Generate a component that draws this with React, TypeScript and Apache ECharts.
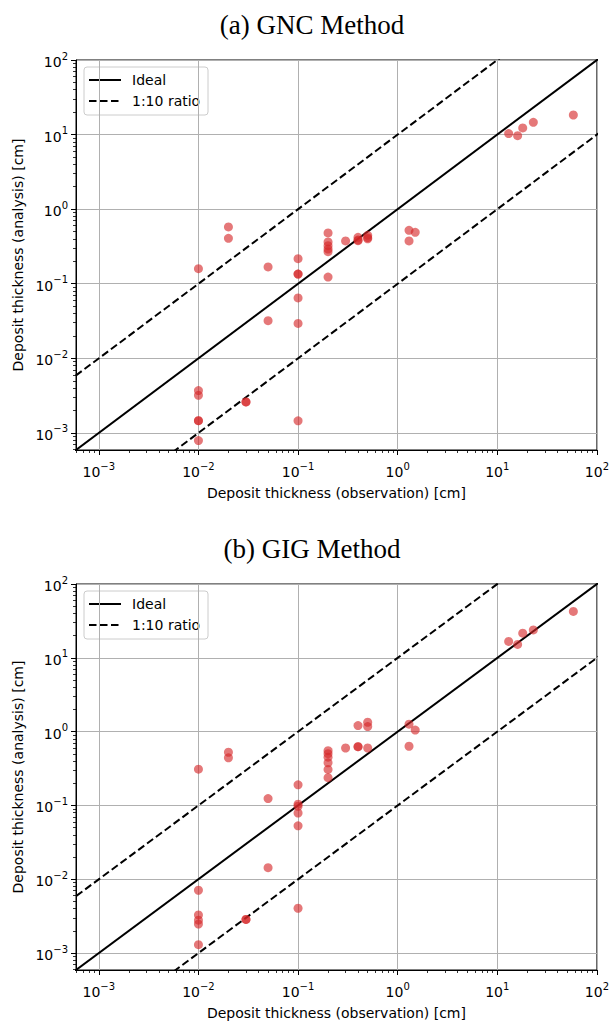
import React, { useEffect, useRef } from 'react';
import * as echarts from 'echarts';

// ---- data ----
const obsThickness = [
  0.01, 0.01, 0.01, 0.01, 0.01, 0.01,
  0.02, 0.02,
  0.03, 0.03,
  0.05, 0.05,
  0.1, 0.1, 0.1, 0.1, 0.1, 0.1,
  0.2, 0.2, 0.2, 0.2, 0.2, 0.2,
  0.3,
  0.4, 0.4, 0.4,
  0.5, 0.5, 0.5,
  1.3, 1.3,
  1.5,
  13, 16, 18, 23, 58,
];
const gncThickness = [
  0.159, 0.00369, 0.00319, 0.00146, 0.00146, 0.00079,
  0.577, 0.407,
  0.0026, 0.0026,
  0.168, 0.032,
  0.217, 0.135, 0.135, 0.0646, 0.0294, 0.00145,
  0.48, 0.363, 0.324, 0.292, 0.269, 0.123,
  0.375,
  0.419, 0.385, 0.378,
  0.446, 0.415, 0.40,
  0.52, 0.375,
  0.489,
  10.3, 9.67, 12.3, 14.6, 18.3,
];
const gigThickness = [
  0.31, 0.0071, 0.00329, 0.00279, 0.00247, 0.0013,
  0.526, 0.442,
  0.00286, 0.00286,
  0.124, 0.01436,
  0.19, 0.104, 0.0975, 0.079, 0.053, 0.00405,
  0.553, 0.503, 0.451, 0.378, 0.308, 0.238,
  0.60,
  1.21, 0.625, 0.625,
  1.34, 1.17, 0.60,
  1.26, 0.634,
  1.05,
  16.7, 15.2, 21.6, 23.9, 42.5,
];
const axisMin = 0.00059;
const axisMax = 100;
const decadeTicks = [0.001, 0.01, 0.1, 1, 10, 100];
const refLineEnds = [1e-5, 1e4];
const ratio = 10;
const panelTitles = ['(a) GNC Method', '(b) GIG Method'];
const xAxisName = 'Deposit thickness (observation) [cm]';
const yAxisName = 'Deposit thickness (analysis) [cm]';
const legendLabels = ['Ideal', '1:10 ratio'];

const FONT = 'DejaVu Sans';
const SERIF = 'Liberation Serif';
const DOT = 'rgba(214,39,40,0.78)';

const fmt = (v: number) => {
  const e = Math.log10(v);
  const r = Math.round(e);
  if (Math.abs(e - r) > 1e-6) return '';
  const exp = r < 0 ? '\u2212' + -r : String(r);
  return `{b|10}{s|${exp}}`;
};

const rich = {
  b: { fontSize: 14, fontFamily: FONT, color: '#000', lineHeight: 18, verticalAlign: 'bottom' },
  s: { fontSize: 10, fontFamily: FONT, color: '#000', lineHeight: 8, verticalAlign: 'top' },
};

const commonAxis = (gridIndex: number) => ({
  type: 'log',
  logBase: 10,
  gridIndex,
  min: axisMin,
  max: axisMax,
  axisLine: { show: true, onZero: false, lineStyle: { color: '#000', width: 1 } },
  axisTick: { show: true, length: 5, inside: false, customValues: decadeTicks, lineStyle: { color: '#000', width: 1 } },
  minorTick: { show: true, splitNumber: 9, length: 3, lineStyle: { color: '#000', width: 0.8 } },
  splitLine: { show: true, lineStyle: { color: '#b0b0b0', width: 1 } },
  minorSplitLine: { show: false },
  nameLocation: 'middle',
  nameTextStyle: { fontFamily: FONT, fontSize: 14, color: '#000' },
});

const makeX = (gridIndex: number) => ({
  ...commonAxis(gridIndex),
  name: xAxisName,
  nameGap: 36,
  axisLabel: { formatter: fmt, rich, margin: 11, customValues: decadeTicks },
});
const makeY = (gridIndex: number) => ({
  ...commonAxis(gridIndex),
  name: yAxisName,
  nameGap: 50,
  axisLabel: { formatter: fmt, rich, margin: 8, customValues: decadeTicks },
});

const makeSeries = (gridIndex: number, values: number[]) => [
  {
    type: 'line',
    xAxisIndex: gridIndex,
    yAxisIndex: gridIndex,
    data: refLineEnds.map((v) => [v, v]),
    symbol: 'none',
    clip: true,
    lineStyle: { color: '#000', width: 2 },
    z: 3,
  },
  {
    type: 'line',
    xAxisIndex: gridIndex,
    yAxisIndex: gridIndex,
    data: refLineEnds.map((v) => [v, v * ratio]),
    symbol: 'none',
    clip: true,
    lineStyle: { color: '#000', width: 2, type: [7.5, 3.5] },
    z: 3,
  },
  {
    type: 'line',
    xAxisIndex: gridIndex,
    yAxisIndex: gridIndex,
    data: refLineEnds.map((v) => [v, v / ratio]),
    symbol: 'none',
    clip: true,
    lineStyle: { color: '#000', width: 2, type: [7.5, 3.5] },
    z: 3,
  },
  {
    type: 'scatter',
    xAxisIndex: gridIndex,
    yAxisIndex: gridIndex,
    data: obsThickness.map((x, i) => [x, values[i]]),
    symbolSize: 9,
    itemStyle: { color: DOT },
    z: 4,
  },
];

const legendGroup = (top: number) => ({
  type: 'group',
  x: 84,
  y: top,
  z: 100,
  children: [
    {
      type: 'rect',
      shape: { x: 0, y: 0, width: 124, height: 48, r: 3 },
      style: { fill: 'rgba(255,255,255,0.8)', stroke: '#cccccc', lineWidth: 1 },
    },
    { type: 'line', shape: { x1: 5, y1: 13, x2: 37, y2: 13 }, style: { stroke: '#000', lineWidth: 2 } },
    {
      type: 'text',
      x: 48,
      y: 13,
      style: { text: legendLabels[0], font: `14px "${FONT}"`, fill: '#000', verticalAlign: 'middle' },
    },
    {
      type: 'line',
      shape: { x1: 5, y1: 34, x2: 37, y2: 34 },
      style: { stroke: '#000', lineWidth: 2, lineDash: [7.5, 3.5] },
    },
    {
      type: 'text',
      x: 48,
      y: 34,
      style: { text: legendLabels[1], font: `14px "${FONT}"`, fill: '#000', verticalAlign: 'middle' },
    },
  ],
});

const titleText = (text: string, y: number) => ({
  type: 'text',
  x: 312,
  y,
  z: 100,
  style: { text, font: `27px "${SERIF}"`, fill: '#000', align: 'center', verticalAlign: 'top' },
});

export default function App() {
  const ref = useRef<HTMLDivElement>(null);
  useEffect(() => {
    if (!ref.current) return;
    const chart = echarts.init(ref.current, null, { renderer: 'svg' });
    const option = {
      animation: false,
      backgroundColor: '#fff',
      grid: [
        { left: 76, top: 60, width: 524, height: 390, show: true, borderColor: '#000', borderWidth: 1, backgroundColor: 'transparent' },
        { left: 76, top: 584, width: 524, height: 390, show: true, borderColor: '#000', borderWidth: 1, backgroundColor: 'transparent' },
      ],
      xAxis: [makeX(0), makeX(1)],
      yAxis: [makeY(0), makeY(1)],
      series: [...makeSeries(0, gncThickness), ...makeSeries(1, gigThickness)],
      graphic: [
        titleText(panelTitles[0], 11),
        titleText(panelTitles[1], 535),
        legendGroup(67),
        legendGroup(591),
      ],
    };
    chart.setOption(option as any);
    return () => chart.dispose();
  }, []);
  return <div ref={ref} style={{ position: 'fixed', left: 0, top: 0, width: 612, height: 1021 }} />;
}
